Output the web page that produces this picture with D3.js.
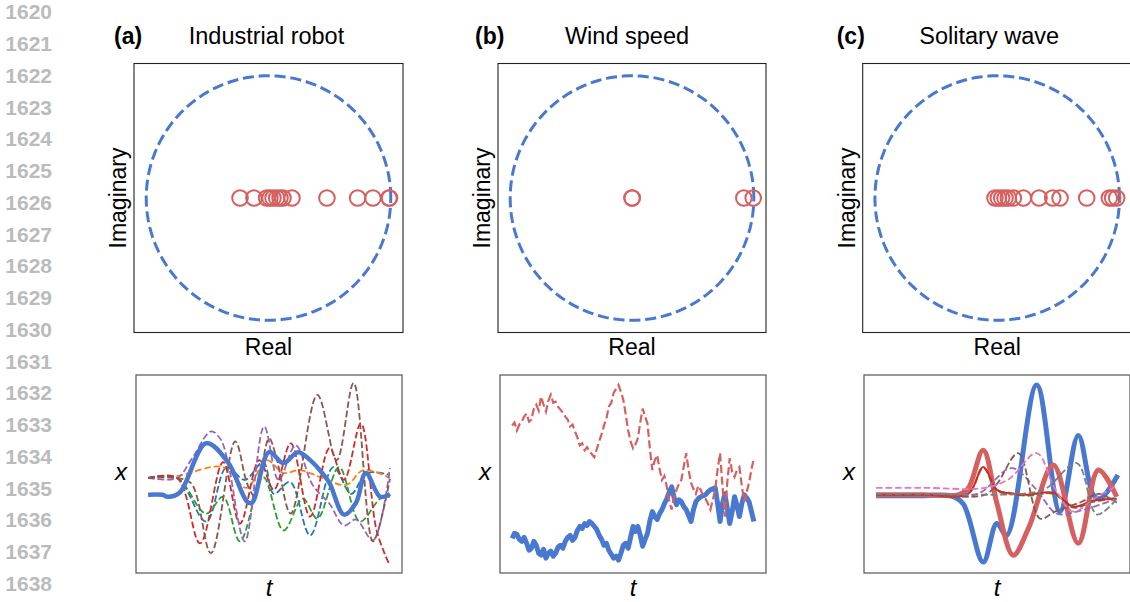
<!DOCTYPE html>
<html>
<head>
<meta charset="utf-8">
<script src="https://cdn.jsdelivr.net/npm/d3@7"></script>
<style>
body { margin: 0; background: #fff; }
text { font-family: "Liberation Sans", Arial, sans-serif; }
</style>
</head>
<body>
<script>
var lineNumbers = d3.range(1620, 1639);
var panelLetters = ['(a)', '(b)', '(c)'];
var panelTitles = ['Industrial robot', 'Wind speed', 'Solitary wave'];

// eigenvalues, real parts (all imaginary parts are 0)
var eigRobot = [-0.233, -0.119, -0.015, 0.012, 0.037, 0.067, 0.094, 0.119, 0.192, 0.478, 0.729, 0.854, 0.985, 0.99];
var eigWind = [0, 0.002, 0.918, 0.995];
var eigWave = [-0.018, 0.009, 0.037, 0.064, 0.091, 0.132, 0.214, 0.342, 0.454, 0.514, 0.732, 0.917, 0.944, 0.977];

// industrial robot: [t, x]
var robotState = [[0,-0.21],[6,-0.21],[8,-0.23],[13,-0.19],[24,0.31],[33,0.12],[41,-0.28],[43,-0.29],[50,0.22],[56,0.11],[62,0.22],[67,0.14],[72,0.01],[75,-0.09],[81,-0.41],[86,-0.29],[90,0.01],[96,-0.23],[100,-0.20]];
var robotBlue = [[0,-0.04],[12,-0.04],[24,-0.48],[32.5,0.07],[40,-0.06],[47.6,0.12],[52,-0.20],[58.7,-0.08],[67,-0.62],[76.6,0.07],[84,-0.20],[90.4,0.01],[100,-0.01]];
var robotOrange = [[0,-0.04],[12,-0.02],[31,0.07],[40.8,-0.14],[49,0.14],[56,0.01],[62.8,0.04],[71,-0.03],[82,-0.11],[89,0.04],[100,-0.04]];
var robotGreen = [[0,-0.04],[12,-0.04],[24,-0.40],[31,-0.23],[38,-0.68],[47.6,-0.03],[56,-0.57],[64,-0.25],[70,-0.45],[79,0.07],[87.6,-0.48],[96,-0.25],[100,-0.23]];
var robotRed = [[0,-0.04],[12,-0.04],[21.5,-0.70],[31,0.12],[38,-0.50],[46,0.14],[52,-0.16],[59,0.31],[67,-0.43],[75,0.26],[81,-0.06],[88,0.51],[94.5,-0.57],[99.5,-0.90]];
var robotPurple = [[0,-0.04],[12,-0.04],[18,0.15],[26,0.43],[30,0.35],[33,0.12],[40,-0.68],[48,0.48],[54,-0.06],[61,0.29],[68,-0.11],[75,-0.30],[81,-0.52],[86,-0.46],[93,-0.67],[100,0.06]];
var robotBrown = [[0,-0.04],[12,-0.04],[18,-0.10],[26,-0.80],[36,0.33],[41,-0.10],[44,-0.22],[50,0.36],[53,0.17],[59,-0.40],[70,0.80],[78,0.14],[85,0.92],[93,-0.68],[100,-0.05]];

// wind speed: one value per time step, t = 0..100
var windBlue = [-0.65,-0.60,-0.61,-0.66,-0.68,-0.64,-0.70,-0.77,-0.75,-0.68,-0.72,-0.80,-0.82,-0.76,-0.85,-0.80,-0.78,-0.83,-0.80,-0.74,
	-0.72,-0.75,-0.68,-0.64,-0.62,-0.67,-0.64,-0.57,-0.53,-0.55,-0.50,-0.52,-0.48,-0.50,-0.53,-0.56,-0.62,-0.66,-0.72,-0.70,
	-0.77,-0.81,-0.85,-0.83,-0.87,-0.80,-0.72,-0.70,-0.75,-0.64,-0.53,-0.58,-0.53,-0.62,-0.73,-0.66,-0.60,-0.47,-0.38,-0.43,
	-0.46,-0.40,-0.36,-0.30,-0.25,-0.18,-0.13,-0.24,-0.31,-0.26,-0.28,-0.33,-0.36,-0.42,-0.48,-0.36,-0.28,-0.25,-0.23,-0.22,
	-0.21,-0.18,-0.16,-0.15,-0.14,-0.30,-0.48,-0.30,-0.20,-0.35,-0.50,-0.38,-0.23,-0.32,-0.43,-0.30,-0.21,-0.24,-0.28,-0.38,-0.48];
var windRed = [0.49,0.52,0.44,0.50,0.53,0.58,0.61,0.53,0.55,0.66,0.70,0.64,0.78,0.70,0.63,0.74,0.80,0.72,0.73,0.68,
	0.65,0.62,0.58,0.55,0.48,0.50,0.43,0.37,0.29,0.31,0.24,0.27,0.23,0.20,0.17,0.25,0.33,0.40,0.49,0.56,
	0.68,0.72,0.82,0.86,0.90,0.83,0.75,0.60,0.44,0.33,0.26,0.30,0.36,0.52,0.66,0.58,0.51,0.25,0.04,0.14,
	0.19,0.05,-0.06,-0.02,-0.13,-0.28,-0.36,-0.22,-0.16,-0.10,-0.06,0.08,0.21,0.04,-0.09,-0.15,-0.20,-0.12,-0.16,-0.22,
	-0.25,-0.30,-0.36,-0.26,-0.16,0.05,0.21,-0.12,-0.43,-0.08,0.16,0.02,-0.03,0.04,0.07,-0.12,-0.28,-0.18,-0.09,0.05,0.16];

// solitary wave: [t, x]
var waveBlue = [[0,-0.22],[20,-0.22],[31,-0.22],[36,-0.30],[44.3,-0.89],[49.9,-0.50],[54,-0.62],[66.4,0.90],[76,-0.38],[83.6,0.39],[89.8,-0.21],[92.6,-0.25],[100,-0.01]];
var waveRed = [[0,-0.21],[20,-0.21],[34,-0.21],[38,-0.15],[44.3,0.24],[50,-0.30],[56.7,-0.82],[63,-0.55],[73.3,0.09],[83.6,-0.70],[91.9,0.04],[99.5,-0.23]];
var waveOrange = [[0,-0.21],[20,-0.21],[38,-0.20],[44.3,0.07],[50,-0.16],[56,-0.19],[62.3,-0.21],[73.3,-0.20],[81.6,-0.33],[89.8,-0.28],[99.5,-0.25]];
var waveGreen = [[0,-0.21],[20,-0.21],[38,-0.20],[44.3,0.06],[50,-0.17],[56,-0.20],[62.3,-0.22],[73.3,-0.20],[81.6,-0.34],[89.8,-0.28],[99.5,-0.24]];
var waveRedThin = [[0,-0.21],[20,-0.21],[38,-0.20],[44.3,0.07],[50,-0.16],[56,-0.20],[62.3,-0.21],[73.3,-0.19],[81.6,-0.33],[89.8,-0.27],[99.5,-0.25]];
var wavePurple = [[0,-0.21],[20,-0.21],[42,-0.20],[56.1,0.06],[66,-0.15],[74.7,-0.40],[83,-0.38],[99.5,-0.25]];
var waveBrown = [[0,-0.21],[20,-0.21],[45,-0.21],[50,-0.10],[58.8,0.21],[67.8,-0.45],[74,-0.38],[85,-0.28],[92,-0.20],[99.5,-0.29]];
var wavePink = [[0,-0.14],[20,-0.14],[45,-0.14],[55,-0.05],[66.4,0.21],[74,-0.15],[81.6,-0.38],[90,-0.25],[99.5,-0.12]];
var waveGray = [[0,-0.20],[20,-0.20],[60,-0.20],[70,-0.15],[83,0.11],[91.3,-0.41],[99.5,-0.25]];

var width = 1130,
	height = 602,
	mutedBlue = '#4878d0',
	mutedRed = '#d65f5f',
	labelSize = '23px';

var topBoxes = [[134, 403], [498, 766], [862.7, 1131.7]],
	bottomBoxes = [[136, 402], [500, 766], [864, 1130]],
	topY = [63.5, 332.5],
	bottomY = [375, 573];

var svg = d3.select('body').append('svg')
	.attr('width', width)
	.attr('height', height);

// line numbers down the margin
svg.selectAll('text.lineno')
	.data(lineNumbers)
	.enter().append('text')
	.attr('class', 'lineno')
	.attr('x', 52)
	.attr('y', function(d, i) { return 11.8 + 31.75 * i + 7.5; })
	.attr('text-anchor', 'end')
	.style('font-size', '21px')
	.style('font-weight', 'bold')
	.style('fill', '#bbb')
	.text(function(d) { return d; });

var defs = svg.append('defs');

var eigenSets = [eigRobot, eigWind, eigWave];

eigenSets.forEach(function(eigs, i) {
	var box = topBoxes[i];
	var x = d3.scaleLinear().domain([-1.1, 1.1]).range(box);
	var y = d3.scaleLinear().domain([-1.1, 1.1]).range([topY[1], topY[0]]);
	var cx = (box[0] + box[1]) / 2;

	// title and panel letter
	svg.append('text')
		.attr('x', box[0] - 20 - 3 * i)
		.attr('y', 44)
		.style('font-size', '23px')
		.style('font-weight', 'bold')
		.text(panelLetters[i]);
	svg.append('text')
		.attr('x', cx - 2 - 3 * i)
		.attr('y', 44)
		.attr('text-anchor', 'middle')
		.style('font-size', '23.5px')
		.text(panelTitles[i]);

	var g = svg.append('g');

	// unit circle
	var unit = d3.range(0, 361, 2).map(function(a) {
		return [Math.cos(a * Math.PI / 180), Math.sin(a * Math.PI / 180)];
	});
	g.append('path')
		.datum(unit)
		.attr('d', d3.line().x(function(d) { return x(d[0]); }).y(function(d) { return y(d[1]); }))
		.attr('fill', 'none')
		.attr('stroke', mutedBlue)
		.attr('stroke-width', 3)
		.attr('stroke-dasharray', '11.1,4.8');

	g.selectAll('circle.eig')
		.data(eigs)
		.enter().append('circle')
		.attr('class', 'eig')
		.attr('cx', function(d) { return x(d); })
		.attr('cy', y(0))
		.attr('r', 7.8)
		.attr('fill', 'none')
		.attr('stroke', mutedRed)
		.attr('stroke-width', 2);

	svg.append('rect')
		.attr('x', box[0]).attr('y', topY[0])
		.attr('width', box[1] - box[0]).attr('height', topY[1] - topY[0])
		.attr('fill', 'none')
		.attr('stroke', '#222')
		.attr('stroke-width', 1.1);

	svg.append('text')
		.attr('transform', 'translate(' + (box[0] - 8) + ',' + ((topY[0] + topY[1]) / 2) + ') rotate(-90)')
		.attr('text-anchor', 'middle')
		.style('font-size', labelSize)
		.text('Imaginary');
	svg.append('text')
		.attr('x', cx)
		.attr('y', 355)
		.attr('text-anchor', 'middle')
		.style('font-size', labelSize)
		.text('Real');
});

// bottom row: time series
var tab = d3.schemeCategory10;
var robotSeries = [
	{ data: robotBlue, colour: tab[0] },
	{ data: robotOrange, colour: tab[1] },
	{ data: robotGreen, colour: tab[2] },
	{ data: robotRed, colour: tab[3] },
	{ data: robotPurple, colour: tab[4] },
	{ data: robotBrown, colour: tab[5] }
];
var waveSeries = [
	{ data: waveOrange, colour: tab[1] },
	{ data: waveGreen, colour: tab[2] },
	{ data: waveRedThin, colour: tab[3], solid: true },
	{ data: wavePurple, colour: tab[4] },
	{ data: waveBrown, colour: tab[5] },
	{ data: wavePink, colour: tab[6] },
	{ data: waveGray, colour: tab[7] }
];

function dashed(sel, colour, lw) {
	sel.attr('fill', 'none')
		.attr('stroke', colour)
		.attr('stroke-width', lw)
		.attr('stroke-dasharray', (3.7 * lw) + ',' + (1.6 * lw));
}

bottomBoxes.forEach(function(box, i) {
	var x = d3.scaleLinear().domain([-5, 105]).range(box);
	var y = d3.scaleLinear().domain([-1, 1]).range([bottomY[1], bottomY[0]]);

	defs.append('clipPath').attr('id', 'clipB' + i)
		.append('rect')
		.attr('x', box[0]).attr('y', bottomY[0])
		.attr('width', box[1] - box[0]).attr('height', bottomY[1] - bottomY[0]);
	var g = svg.append('g').attr('clip-path', 'url(#clipB' + i + ')');

	var smooth = d3.line()
		.x(function(d) { return x(d[0]); })
		.y(function(d) { return y(d[1]); })
		.curve(d3.curveCatmullRom.alpha(0.5));
	var jagged = d3.line()
		.x(function(d, k, arr) { return x(k * 100 / (arr.length - 1)); })
		.y(function(d) { return y(d); });

	if (i === 0) {
		robotSeries.forEach(function(s) {
			g.append('path').datum(s.data)
				.attr('d', smooth)
				.call(dashed, s.colour, 1.8);
		});
		g.append('path').datum(robotState)
			.attr('d', smooth)
			.attr('fill', 'none')
			.attr('stroke', mutedBlue)
			.attr('stroke-width', 4.5);
	} else if (i === 1) {
		g.append('path').datum(windBlue)
			.attr('d', jagged)
			.attr('fill', 'none')
			.attr('stroke', mutedBlue)
			.attr('stroke-width', 5)
			.attr('stroke-linejoin', 'round');
		g.append('path').datum(windRed)
			.attr('d', jagged)
			.call(dashed, mutedRed, 2.2);
	} else {
		g.append('path').datum(waveBlue)
			.attr('d', smooth)
			.attr('fill', 'none')
			.attr('stroke', mutedBlue)
			.attr('stroke-width', 5);
		g.append('path').datum(waveRed)
			.attr('d', smooth)
			.attr('fill', 'none')
			.attr('stroke', mutedRed)
			.attr('stroke-width', 5);
		waveSeries.forEach(function(s) {
			var p = g.append('path').datum(s.data)
				.attr('d', smooth)
				.call(dashed, s.colour, 1.8);
			if (s.solid) p.attr('stroke-dasharray', null).attr('stroke-width', 2);
		});
	}

	svg.append('rect')
		.attr('x', box[0]).attr('y', bottomY[0])
		.attr('width', box[1] - box[0]).attr('height', bottomY[1] - bottomY[0])
		.attr('fill', 'none')
		.attr('stroke', '#555')
		.attr('stroke-width', 1.2);

	svg.append('text')
		.attr('x', box[0] - 15)
		.attr('y', (bottomY[0] + bottomY[1]) / 2 + 6)
		.attr('text-anchor', 'middle')
		.style('font-size', '24px')
		.style('font-style', 'italic')
		.text('x');
	svg.append('text')
		.attr('x', (box[0] + box[1]) / 2)
		.attr('y', 596)
		.attr('text-anchor', 'middle')
		.style('font-size', '24px')
		.style('font-style', 'italic')
		.text('t');
});
</script>
</body>
</html>
